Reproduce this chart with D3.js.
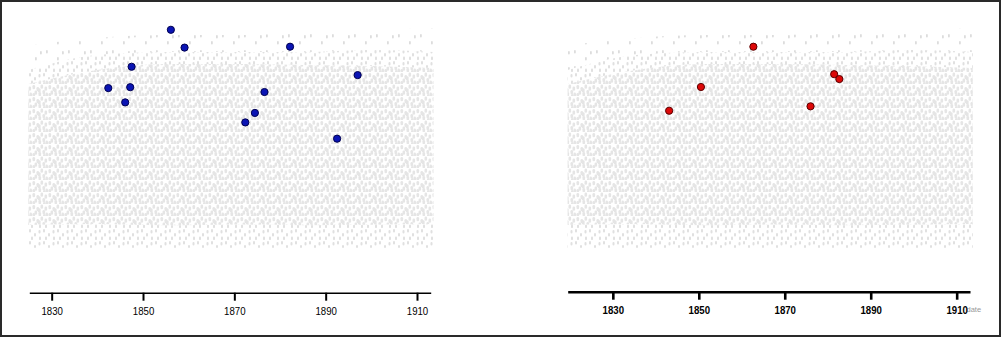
<!DOCTYPE html>
<html><head><meta charset="utf-8">
<script src="https://cdn.jsdelivr.net/npm/d3@7"></script>
<style>html,body{margin:0;padding:0;background:#fff;}svg{display:block;}</style>
</head><body>
<svg id="chart" width="1002" height="338"></svg>
<script>
// ---- data ----
const tickYears = [1830, 1850, 1870, 1890, 1910];
// blue (left panel) highlighted items
const blueYears  = [1856.1, 1859.1, 1882.2, 1847.5, 1897.0, 1842.4, 1847.2, 1846.1, 1876.6, 1874.5, 1872.4, 1892.5];
const blueValues = [100.1, 92.0, 92.4, 83.3, 79.5, 73.6, 74.0, 67.1, 71.8, 62.3, 58.0, 50.6];
// red (right panel) highlighted items
const redYears  = [1843.1, 1850.5, 1862.7, 1876.0, 1881.5, 1882.7];
const redValues = [63.3, 74.1, 92.4, 65.3, 79.9, 77.7];
// background cloud envelope (all items), by year
const cloudYears   = [1825, 1840, 1855, 1870, 1885, 1900, 1913.5];
const sparseTop    = [93, 96.4, 97.7, 97.7, 98.6, 100, 100.9];
const mediumTop    = [81.8, 88.6, 90, 90, 90, 90.9, 90];
const denseTop     = [75.5, 81.8, 84.5, 84.5, 84.1, 83.6, 82.7];
const denseBottom  = [11.4, 11.8, 11.2, 11.6, 11.3, 11.5, 11.8];
const sparseBottom = [1, 1, 1, 1, 1, 1, 1];

// ---- layout ----
const svg = d3.select("#chart");
const y = d3.scaleLinear().domain([0, 100]).range([250, 30]);
const FONT = "Liberation Sans Narrow, Arial Narrow, Liberation Sans, Arial, sans-serif";

const defs = svg.append("defs");
function pattern(id, w, h, caps, cw, ch, col) {
  const p = defs.append("pattern").attr("id", id).attr("patternUnits", "userSpaceOnUse")
    .attr("width", w).attr("height", h);
  caps.forEach(c => p.append("rect").attr("x", c[0]).attr("y", c[1]).attr("width", cw).attr("height", ch)
    .attr("rx", cw / 2).attr("fill", col));
}
pattern("dense", 16, 12, [[0.5,1],[4.5,3],[8.5,0.5],[12.5,2.5],[2.5,6.5],[6.5,8],[10.5,6],[13.5,8.5],[0.5,9],[6,4.3],[11,10]], 2.6, 4.2, "#e5e5e5");
pattern("medium", 14, 12, [[1,1],[6,5],[10.5,2],[3,8.5],[11,8.5]], 2, 3.6, "#e0e0e0");
pattern("sparse", 22, 16, [[2,2],[13,9],[18,3]], 1.8, 3.4, "#dcdcdc");

function panel(offset, axisDomain, axisRange, axisWidth, tickWidth, bold, dotYears, dotValues, fill, stroke, withLabel) {
  const g = svg.append("g");
  const xc = d3.scaleLinear().domain([1825, 1913.5]).range([28.3 + offset, 433.5 + offset]);
  const idx = d3.range(cloudYears.length);
  const band = (lo, hi, pat) => g.append("path")
    .attr("d", d3.area().x(i => xc(cloudYears[i])).y0(i => y(lo[i])).y1(i => y(hi[i])).curve(d3.curveMonotoneX)(idx))
    .attr("fill", `url(#${pat})`);
  band(denseTop, mediumTop, "medium");
  band(mediumTop, sparseTop, "sparse");
  band(denseBottom, denseTop, "dense");
  band(sparseBottom, denseBottom, "medium");

  const x = d3.scaleLinear().domain(axisDomain).range(axisRange);
  if (withLabel) {
    g.append("text").attr("x", 966.5).attr("y", 312).attr("text-anchor", "start")
      .attr("font-family", FONT).attr("font-size", 7.5)
      .attr("fill", "#999").text("date");
  }
  const ax = g.append("g").attr("transform", `translate(0,${axisWidth > 2 ? 291.7 : 292.7})`)
    .call(d3.axisBottom(x).tickValues(tickYears).tickFormat(d3.format("d")).tickSizeInner(8).tickSizeOuter(0).tickPadding(6));
  ax.select(".domain").attr("stroke", "#000").attr("stroke-width", axisWidth);
  ax.selectAll(".tick line").attr("stroke", "#000").attr("stroke-width", tickWidth);
  ax.selectAll(".tick text").attr("fill", "#000")
    .attr("font-family", FONT).attr("transform", "scale(0.84,1)")
    .attr("font-size", 11.5).attr("font-weight", bold ? "bold" : "normal");

  g.selectAll("circle.pt").data(d3.range(dotYears.length)).join("circle").attr("class", "pt")
    .attr("cx", i => x(dotYears[i])).attr("cy", i => y(dotValues[i])).attr("r", 3.6)
    .attr("fill", fill).attr("stroke", stroke).attr("stroke-width", 1);
}

panel(0, [1825.1, 1913], [29.3, 430.7], 1.5, 2, false, blueYears, blueValues, "#0a14b4", "#000050", false);
panel(539.3, [1819.5, 1913.1], [567.7, 970], 2.6, 2.6, true, redYears, redValues, "#dd0808", "#5a0000", true);

svg.append("rect").attr("x", 1).attr("y", 1).attr("width", 999).attr("height", 335)
  .attr("fill", "none").attr("stroke", "#2a2a2a").attr("stroke-width", 2);
</script>
</body></html>
